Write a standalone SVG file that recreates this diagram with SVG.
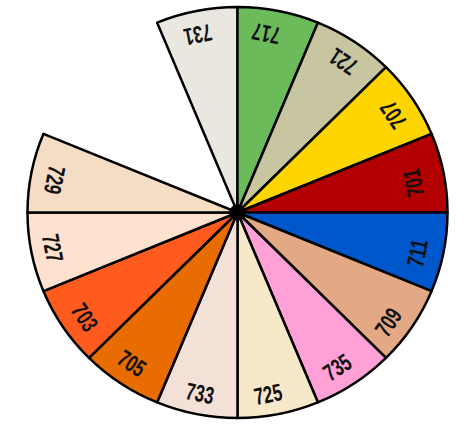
<svg xmlns="http://www.w3.org/2000/svg" width="475" height="426" viewBox="0 0 475 426">
<style>
.w{stroke:#000;stroke-width:2.5;stroke-linejoin:round}
.t{font-family:"Liberation Sans",Arial,sans-serif;font-size:24px;font-weight:bold;fill:#111;text-anchor:middle;dominant-baseline:central}
</style>
<rect width="475" height="426" fill="#fff"/>
<g id="w731"><path class="w" fill="#e9e7e0" d="M237.5 212.5 L157.14 22.64 A210 205.5 0 0 1 237.5 7 Z"/><text class="t" transform="translate(198 35) rotate(168.75) scale(0.7 1)">731</text></g>
<g id="w717"><path class="w" fill="#6cbb5a" d="M237.5 212.5 L237.5 7 A210 205.5 0 0 1 317.86 22.64 Z"/><text class="t" transform="translate(266 34) rotate(191.25) scale(0.7 1)">717</text></g>
<g id="w721"><path class="w" fill="#c8c6a1" d="M237.5 212.5 L317.86 22.64 A210 205.5 0 0 1 385.99 67.19 Z"/><text class="t" transform="translate(343 62) rotate(213.75) scale(0.7 1)">721</text></g>
<g id="w707"><path class="w" fill="#ffd500" d="M237.5 212.5 L385.99 67.19 A210 205.5 0 0 1 431.52 133.86 Z"/><text class="t" transform="translate(393 115) rotate(236.25) scale(0.7 1)">707</text></g>
<g id="w701"><path class="w" fill="#b20000" d="M237.5 212.5 L431.52 133.86 A210 205.5 0 0 1 447.5 212.5 Z"/><text class="t" transform="translate(413 183) rotate(258.75) scale(0.7 1)">701</text></g>
<g id="w711"><path class="w" fill="#0057cc" d="M237.5 212.5 L447.5 212.5 A210 205.5 0 0 1 431.52 291.14 Z"/><text class="t" transform="translate(417 253) rotate(281.25) scale(0.7 1)">711</text></g>
<g id="w709"><path class="w" fill="#e3a984" d="M237.5 212.5 L431.52 291.14 A210 205.5 0 0 1 385.99 357.81 Z"/><text class="t" transform="translate(388 322) rotate(303.75) scale(0.7 1)">709</text></g>
<g id="w735"><path class="w" fill="#ffa0d6" d="M237.5 212.5 L385.99 357.81 A210 205.5 0 0 1 317.86 402.36 Z"/><text class="t" transform="translate(337 367) rotate(326.25) scale(0.7 1)">735</text></g>
<g id="w725"><path class="w" fill="#f6e8c8" d="M237.5 212.5 L317.86 402.36 A210 205.5 0 0 1 237.5 418 Z"/><text class="t" transform="translate(268 394) rotate(348.75) scale(0.7 1)">725</text></g>
<g id="w733"><path class="w" fill="#f3e0d7" d="M237.5 212.5 L237.5 418 A210 205.5 0 0 1 157.14 402.36 Z"/><text class="t" transform="translate(200 393) rotate(11.25) scale(0.7 1)">733</text></g>
<g id="w705"><path class="w" fill="#e86c00" d="M237.5 212.5 L157.14 402.36 A210 205.5 0 0 1 89.01 357.81 Z"/><text class="t" transform="translate(132 363) rotate(33.75) scale(0.7 1)">705</text></g>
<g id="w703"><path class="w" fill="#ff5b1e" d="M237.5 212.5 L89.01 357.81 A210 205.5 0 0 1 43.48 291.14 Z"/><text class="t" transform="translate(85 317) rotate(56.25) scale(0.7 1)">703</text></g>
<g id="w727"><path class="w" fill="#fee2cf" d="M237.5 212.5 L43.48 291.14 A210 205.5 0 0 1 27.5 212.5 Z"/><text class="t" transform="translate(53 248) rotate(78.75) scale(0.7 1)">727</text></g>
<g id="w729"><path class="w" fill="#f4dcc5" d="M237.5 212.5 L27.5 212.5 A210 205.5 0 0 1 43.48 133.86 Z"/><text class="t" transform="translate(55 180) rotate(101.25) scale(0.7 1)">729</text></g>
<g id="connectors"><circle cx="237.5" cy="212.5" r="8" fill="#000"/></g>
</svg>
